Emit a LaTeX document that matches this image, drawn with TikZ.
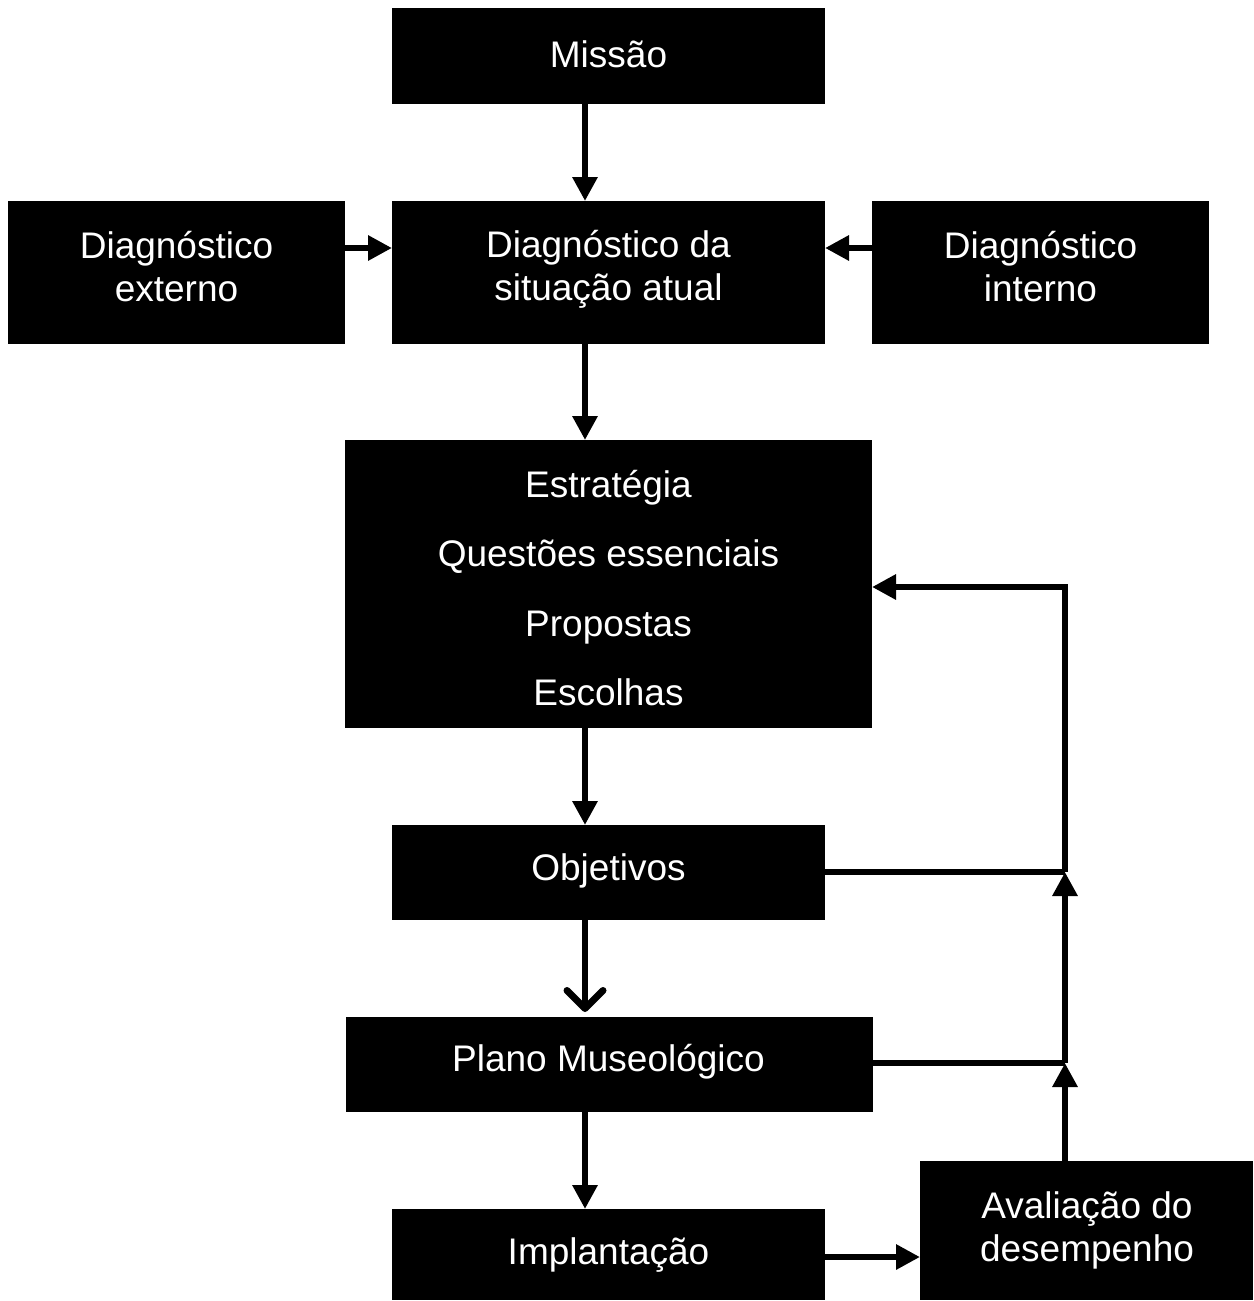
\documentclass[tikz,border=0pt]{standalone}
\usepackage{fontspec}
\setmainfont{Liberation Sans}
\usetikzlibrary{arrows.meta}
\begin{document}
\begin{tikzpicture}[x=1pt,y=-1pt,
  box/.style={fill=black,draw=none,text=white,align=center,font=\fontsize{37}{43}\selectfont},
  conn/.style={line width=6pt,-{Triangle[length=24pt,width=24pt]}},
  vconn/.style={line width=6pt,-{Straight Barb[length=18pt,width=36pt,line width=7pt,line cap=round,line join=round]}},
  plain/.style={line width=6pt}]
\useasboundingbox (0,0) rectangle (1253,1301);
\fill[black] (392,8) rectangle (825,104);
\node[box,text=white] (missao) at (608.5,54) {Missão};
\fill (8,201) rectangle (345,344);
\node[box] (ext) at (176.5,267) {Diagnóstico\\externo};
\fill (392,201) rectangle (825,344);
\node[box] (sit) at (608.5,269) {Diagnóstico da\\situação atual};
\fill (872,201) rectangle (1209,344);
\node[box] (int) at (1040.5,267) {Diagnóstico\\interno};
\fill (345,440) rectangle (872,728);
\node[box,font=\fontsize{37}{69.5}\selectfont] (estr) at (608.5,588) {Estratégia\\Questões essenciais\\Propostas\\Escolhas};
\fill (392,825) rectangle (825,920);
\node[box] (obj) at (608.5,871) {Objetivos};
\fill (346,1017) rectangle (873,1112);
\node[box] (plano) at (608.5,1062) {Plano Museológico};
\fill (392,1209) rectangle (825,1300);
\node[box] (impl) at (608.5,1255) {Implantação};
\fill (920,1161) rectangle (1253,1300);
\node[box] (aval) at (1087,1230) {Avaliação do\\desempenho};
\coordinate (tMissao) at (585,104);
\coordinate (hSit) at (585,201);
\draw[conn] (tMissao) -- (hSit);
\coordinate (eR) at (345,248);
\coordinate (sL) at (392,248);
\draw[conn] (eR) -- (sL);
\coordinate (iL) at (872,248);
\coordinate (sR) at (825,248);
\draw[conn] (iL) -- (sR);
\coordinate (sB) at (585,344);
\coordinate (eT) at (585,440);
\draw[conn] (sB) -- (eT);
\coordinate (eB) at (585,728);
\coordinate (oT) at (585,825);
\draw[conn] (eB) -- (oT);
\coordinate (oB) at (585,920);
\coordinate (pT) at (585,1012);
\draw[vconn] (oB) -- (pT);
\coordinate (pB) at (585,1112);
\coordinate (iT) at (585,1209);
\draw[conn] (pB) -- (iT);
\coordinate (imR) at (825,1257);
\coordinate (aL) at (920,1257);
\draw[conn] (imR) -- (aL);
\coordinate (aT) at (1065,1161);
\coordinate (jP) at (1065,1063);
\coordinate (jO) at (1065,872);
\coordinate (top) at (1065,587);
\coordinate (eRr) at (872,587);
\draw[conn] (aT) -- (jP);
\draw[conn] (jP) -- (jO);
\draw[plain] (873,1063) -- (jP);
\draw[plain] (825,872) -- (jO);
\draw[conn] (jO) -- (top) -- (eRr);
\end{tikzpicture}
\end{document}
